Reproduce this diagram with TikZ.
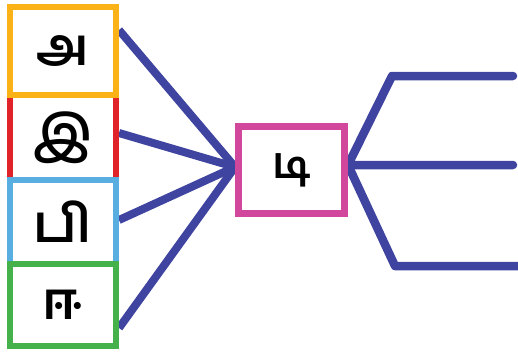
\documentclass[tikz,border=0pt]{standalone}
\usepackage{fontspec}
\newfontfamily\tamilfont[Script=Tamil]{Hind Madurai}
\usetikzlibrary{backgrounds}
\definecolor{boxorange}{HTML}{FBB217}
\definecolor{boxred}{HTML}{E02229}
\definecolor{boxblue}{HTML}{58AEE1}
\definecolor{boxgreen}{HTML}{44B14A}
\definecolor{boxpink}{HTML}{D1479B}
\definecolor{linkblue}{HTML}{3F44A0}

\begin{document}
\begin{tikzpicture}[x=1pt, y=-1pt]
    \tikzstyle{letterbox} = [draw, line width=6pt, minimum width=106pt, inner sep=0pt, font=\tamilfont\bfseries\fontsize{52}{52}\selectfont]
    \tikzstyle{link} = [draw=linkblue, line width=8pt]
    \useasboundingbox (0,0) rectangle (518,357);
    \node[letterbox, draw=boxred, minimum height=85pt] (i) at (63,137.5) {இ};
    \node[letterbox, draw=boxorange, minimum height=88pt] (a) at (63,51) {அ};
    \node[letterbox, draw=boxblue, minimum height=84pt] (pi) at (63,222) {பி};
    \node[letterbox, draw=boxgreen, minimum height=82pt] (ii) at (63,305) {ஈ};
    \node[letterbox, draw=boxpink, line width=7pt, minimum height=87pt, font=\tamilfont\bfseries\fontsize{44}{44}\selectfont] (di) at (291.5,170) {டி};
    \coordinate (upbend) at (392,76);
    \coordinate (upend) at (513,76);
    \coordinate (midend) at (513,165);
    \coordinate (lowbend) at (395,266);
    \coordinate (lowend) at (518,266);
    \begin{scope}[on background layer]
        \foreach \n/\s in {a/21, i/4.5, pi/2, ii/-23} {
            \draw[link] ([yshift=\s pt]\n.east) -- ([yshift=3pt]di.west);
        }
        \draw[link, line width=8.5pt, line cap=round, line join=round] (upend) -- (upbend) -- ([yshift=5pt]di.east) -- (midend);
        \draw[link, line width=8.5pt, line join=round] ([yshift=5pt]di.east) -- (lowbend) -- (lowend);
    \end{scope}
\end{tikzpicture}
\end{document}
